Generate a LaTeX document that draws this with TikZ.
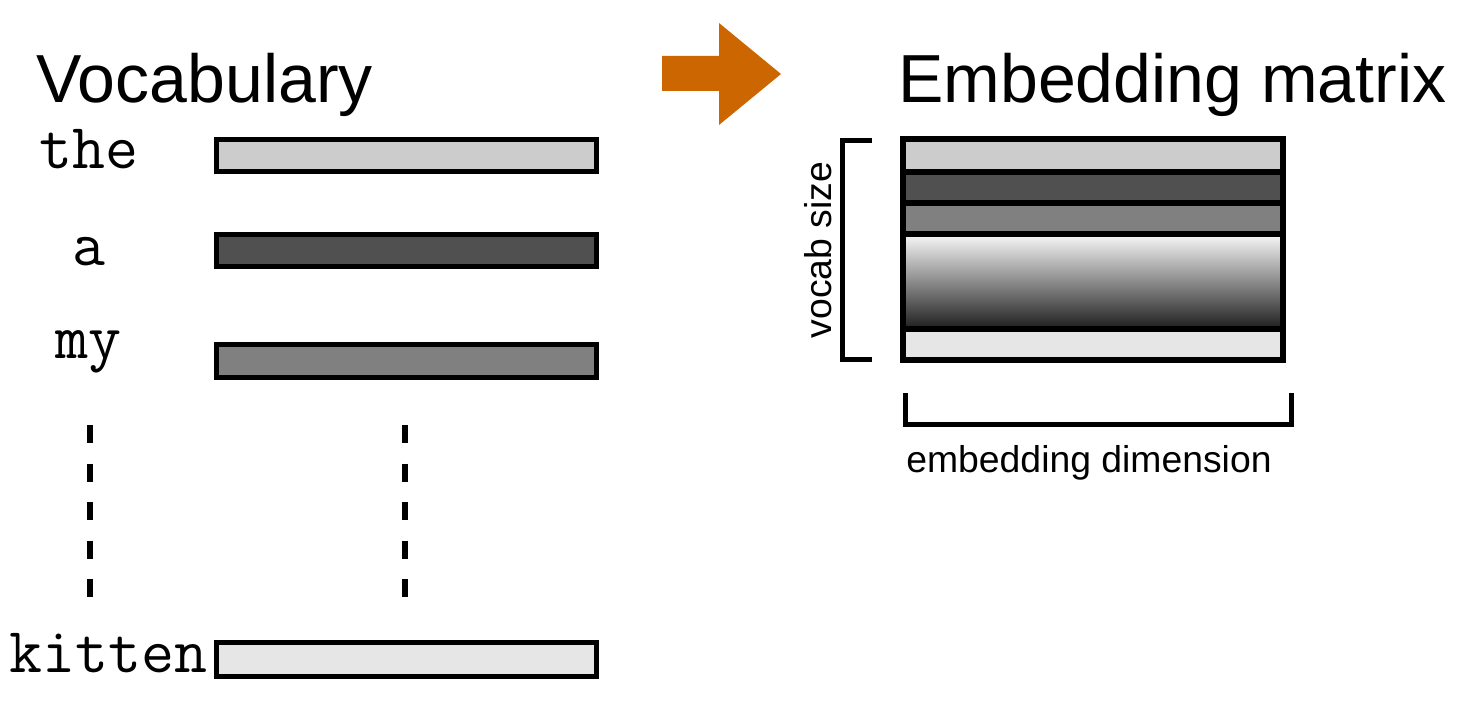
\documentclass[tikz,border=0pt]{standalone}
\usepackage{fontspec}
\setmainfont{Liberation Sans}
\usepackage{tikz}

\definecolor{arrowOrange}{RGB}{204,102,0}

\begin{document}
\begin{tikzpicture}[x=0.75pt,y=0.75pt,yscale=-1,xscale=1,
	wordbar/.style={line width=3.75},
	wordlabel/.style={inner sep=0pt,font=\fontsize{48}{48}\selectfont\ttfamily},
	bigtitle/.style={inner sep=0pt,font=\fontsize{51}{51}\selectfont},
	axislabel/.style={inner sep=0pt,font=\fontsize{28}{28}\selectfont}]
		\useasboundingbox (0,0) rectangle (1468,710);
		
		%Shape: Rectangle [id:the]
		\draw  [fill={rgb, 255:red, 204; green, 204; blue, 204 }][wordbar]  (216,139) -- (596,139) -- (596,171) -- (216,171) -- cycle ;
		%Shape: Rectangle [id:a]
		\draw  [fill={rgb, 255:red, 80; green, 80; blue, 80 }][wordbar]  (216,234) -- (596,234) -- (596,266) -- (216,266) -- cycle ;
		%Shape: Rectangle [id:my]
		\draw  [fill={rgb, 255:red, 128; green, 128; blue, 128 }][wordbar]  (216,344) -- (596,344) -- (596,377) -- (216,377) -- cycle ;
		%Shape: Rectangle [id:kitten]
		\draw  [fill={rgb, 255:red, 230; green, 230; blue, 230 }][wordbar]  (216,642) -- (596,642) -- (596,676) -- (216,676) -- cycle ;
		%Straight Lines [id:dots]
		\draw  [line width=4.5, dash pattern=on 13.5pt off 15.4pt]  (90,425) -- (90,597) ;
		\draw  [line width=4.5, dash pattern=on 13.5pt off 15.4pt]  (405,425) -- (405,597) ;
		
		%Right Arrow [id:arrow]
		\fill  [arrowOrange]  (662,56) -- (719,56) -- (719,23) -- (781,74) -- (719,125) -- (719,91) -- (662,91) -- cycle ;
		
		%Shape: Matrix rows [id:matrix]
		\fill  [fill={rgb, 255:red, 204; green, 204; blue, 204 }]  (903,139) rectangle (1283,172) ;
		\fill  [fill={rgb, 255:red, 80; green, 80; blue, 80 }]  (903,172) rectangle (1283,203) ;
		\fill  [fill={rgb, 255:red, 128; green, 128; blue, 128 }]  (903,203) rectangle (1283,234) ;
		\shade  [top color={rgb, 255:red, 248; green, 248; blue, 248 }, bottom color={rgb, 255:red, 30; green, 30; blue, 30 }]  (903,234) rectangle (1283,329) ;
		\fill  [fill={rgb, 255:red, 230; green, 230; blue, 230 }]  (903,329) rectangle (1283,360) ;
		\draw  [line width=4.5]  (903,172) -- (1283,172) (903,203) -- (1283,203) (903,234) -- (1283,234) (903,329) -- (1283,329) ;
		\draw  [line width=4.5]  (903,139) -- (1283,139) -- (1283,360) -- (903,360) -- cycle ;
		
		%Shape: Bracket [id:vocabsize]
		\draw  [line width=3.75]  (872,140) -- (842,140) -- (842,359) -- (872,359) ;
		%Shape: Bracket [id:embdim]
		\draw  [line width=3.75]  (905,393) -- (905,424) -- (1291,424) -- (1291,393) ;
		
		% Text Node
		\draw (36,103) node [anchor=base west][bigtitle] (vocab) {Vocabulary};
		% Text Node
		\draw (898,103) node [anchor=base west][bigtitle] (embmatrix) {Embedding matrix};
		% Text Node
		\draw (89,168) node [anchor=base][wordlabel] (wthe) {the};
		% Text Node
		\draw (89,265) node [anchor=base][wordlabel] (wa) {a};
		% Text Node
		\draw (88,358) node [anchor=base][wordlabel] (wmy) {my};
		% Text Node
		\draw (208,672) node [anchor=base east][wordlabel] (wkitten) {kitten};
		% Text Node
		\draw (818,250) node [rotate=90][axislabel] (vsize) {vocab size};
		% Text Node
		\draw (1089,472) node [anchor=base][axislabel] (edim) {embedding dimension};
	\end{tikzpicture}
\end{document}
